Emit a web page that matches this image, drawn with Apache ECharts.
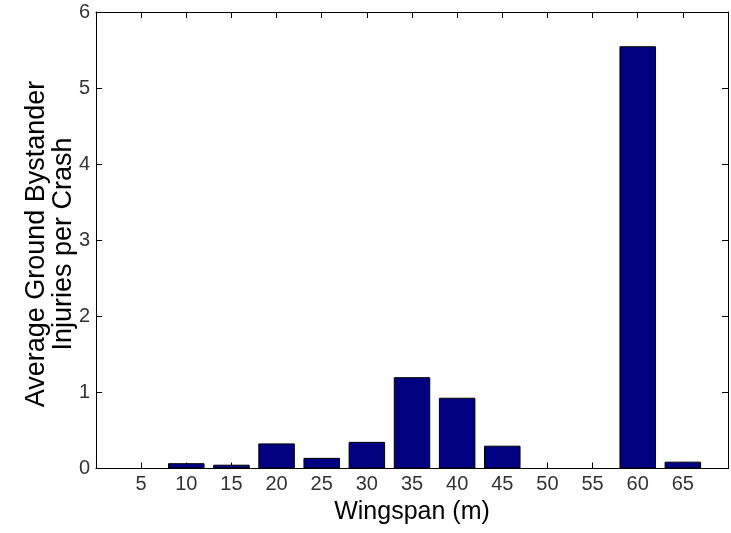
<!DOCTYPE html>
<html>
<head>
<meta charset="utf-8">
<script src="https://cdn.jsdelivr.net/npm/echarts@6/dist/echarts.min.js"></script>
<style>html,body{margin:0;padding:0;background:#fff;}#c{width:731px;height:533px;}</style>
</head>
<body>
<div id="c"></div>
<script>
// Data
const wingspans = [5, 10, 15, 20, 25, 30, 35, 40, 45, 50, 55, 60, 65];
const injuries = [0, 0.07, 0.05, 0.33, 0.14, 0.35, 1.2, 0.93, 0.30, 0, 0, 5.55, 0.09];
const xTitle = 'Wingspan (m)';
const yTitle = 'Average Ground Bystander\nInjuries per Crash';

const FONT = '"Liberation Sans", Arial, sans-serif';
const chart = echarts.init(document.getElementById('c'), null, {renderer: 'canvas'});
const axisLine = {show: true, onZero: false, lineStyle: {color: '#000', width: 1}};
const tick = {show: true, inside: true, length: 6, lineStyle: {color: '#000', width: 1}};
const hideEnds = v => (v === 0 || v === 70) ? '' : String(v);

chart.setOption({
  animation: false,
  backgroundColor: '#fff',
  grid: {left: 96, top: 12, width: 640, height: 456.5, containLabel: false},
  xAxis: [
    {type: 'value', position: 'bottom', min: 0, max: 70, interval: 5,
     axisLine, axisTick: tick, splitLine: {show: false},
     axisLabel: {formatter: hideEnds, fontFamily: FONT, fontSize: 20, color: '#333', margin: 6},
     name: xTitle, nameLocation: 'middle', nameGap: 29,
     nameTextStyle: {fontFamily: FONT, fontSize: 25, color: '#000'}},
    {type: 'value', position: 'top', min: 0, max: 70, interval: 5,
     axisLine, axisTick: tick, splitLine: {show: false}, axisLabel: {show: false}}
  ],
  yAxis: [
    {type: 'value', position: 'left', min: 0, max: 6, interval: 1,
     axisLine, axisTick: tick, splitLine: {show: false},
     axisLabel: {fontFamily: FONT, fontSize: 20, color: '#333', margin: 6}},
    {type: 'value', position: 'right', min: 0, max: 6, interval: 1,
     axisLine, axisTick: tick, splitLine: {show: false}, axisLabel: {show: false}}
  ],
  graphic: [{
    type: 'text', x: 50, y: 244, rotation: Math.PI / 2,
    style: {text: yTitle, font: '27px ' + FONT, fill: '#000',
            textAlign: 'center', textVerticalAlign: 'middle', lineHeight: 27, align: 'center', verticalAlign: 'middle'}
  }],
  series: [{
    type: 'bar', xAxisIndex: 0, yAxisIndex: 0,
    data: wingspans.map((w, i) => [w, injuries[i]]),
    barWidth: 36.5,
    itemStyle: {color: '#000080', borderColor: '#000', borderWidth: 1}
  }]
});
</script>
</body>
</html>
